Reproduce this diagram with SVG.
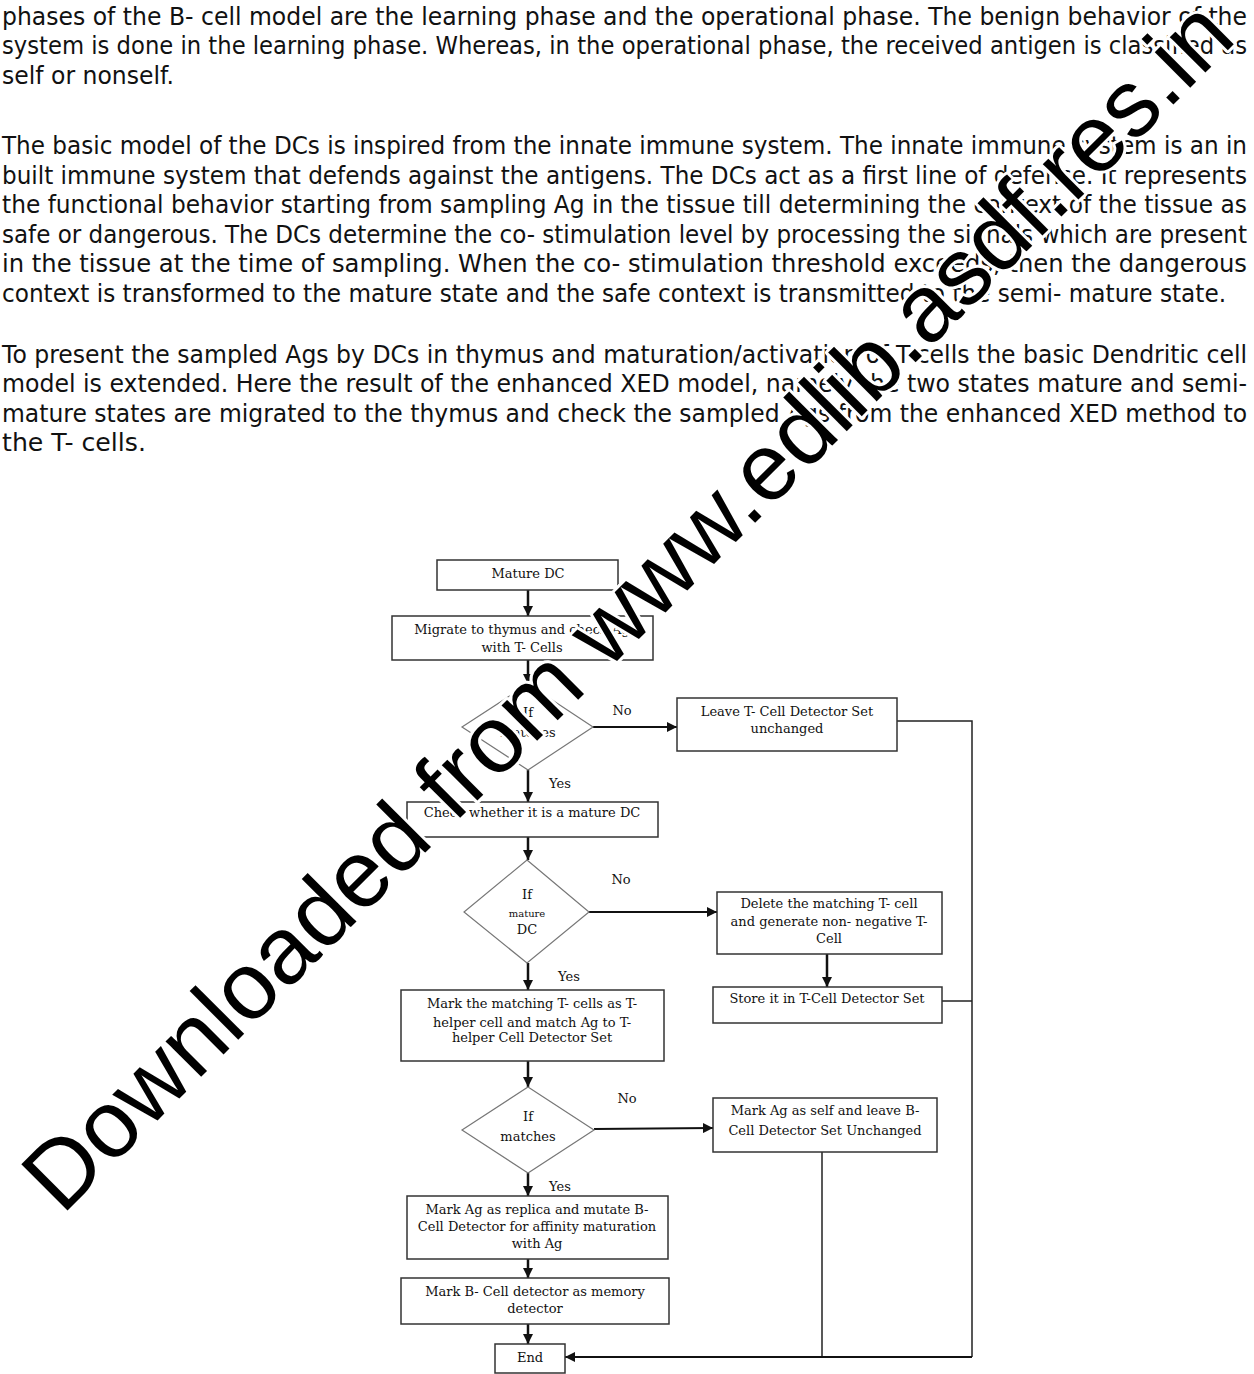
<svg xmlns="http://www.w3.org/2000/svg" width="1254" height="1374" viewBox="0 0 1254 1374">
<style>
.body{font-family:"DejaVu Sans","Liberation Sans",sans-serif;font-size:24px;fill:#111}
.ft{font-family:"DejaVu Serif","Liberation Serif",serif;font-size:13px;fill:#111;text-anchor:middle}
.sm{font-size:10px}
.box{fill:#fff;stroke:#333;stroke-width:1.5}
.dia{fill:#fff;stroke:#777;stroke-width:1.2}
.arr{stroke:#111;stroke-width:2.5;fill:none;marker-end:url(#ah)}
.arn{stroke:#111;stroke-width:2;fill:none;marker-end:url(#ah)}
.ln{stroke:#222;stroke-width:1.5;fill:none}
.wm{font-family:"Liberation Sans",Arial,sans-serif;font-size:95px;fill:#000;stroke:#fff;stroke-width:6;paint-order:stroke;stroke-linejoin:round}
</style>
<defs>
<marker id="ah" markerUnits="userSpaceOnUse" markerWidth="10" markerHeight="10" refX="10" refY="5" orient="auto">
<path d="M0,0 L10,5 L0,10 z" fill="#111"/>
</marker>
</defs>
<rect width="1254" height="1374" fill="#fff"/>
<g id="text">
<text class="body" x="2" y="25" textLength="1245" lengthAdjust="spacingAndGlyphs">phases of the B- cell model are the learning phase and the operational phase. The benign behavior of the</text>
<text class="body" x="2" y="54" textLength="1245" lengthAdjust="spacingAndGlyphs">system is done in the learning phase. Whereas, in the operational phase, the received antigen is classified as</text>
<text class="body" x="2" y="84" textLength="172" lengthAdjust="spacingAndGlyphs">self or nonself.</text>
<text class="body" x="2" y="154" textLength="1245" lengthAdjust="spacingAndGlyphs">The basic model of the DCs is inspired from the innate immune system. The innate immune system is an in</text>
<text class="body" x="2" y="184" textLength="1245" lengthAdjust="spacingAndGlyphs">built immune system that defends against the antigens.  The DCs act as a first line of defense. It represents</text>
<text class="body" x="2" y="213" textLength="1245" lengthAdjust="spacingAndGlyphs">the functional behavior starting from sampling Ag in the tissue till determining the context of the tissue as</text>
<text class="body" x="2" y="243" textLength="1245" lengthAdjust="spacingAndGlyphs">safe or dangerous. The DCs determine the co- stimulation level by processing the signals which are present</text>
<text class="body" x="2" y="272" textLength="1245" lengthAdjust="spacingAndGlyphs">in the tissue at the time of sampling. When the co- stimulation threshold exceeds, then the dangerous</text>
<text class="body" x="2" y="302" textLength="1224" lengthAdjust="spacingAndGlyphs">context is transformed to the mature state and the safe context is transmitted to the semi- mature state.</text>
<text class="body" x="2" y="363" textLength="1245" lengthAdjust="spacingAndGlyphs">To present the sampled Ags by DCs in thymus and maturation/activation of T-cells the basic Dendritic cell</text>
<text class="body" x="2" y="392" textLength="1245" lengthAdjust="spacingAndGlyphs">model is extended. Here the result of the enhanced XED model, namely the two states mature and semi-</text>
<text class="body" x="2" y="422" textLength="1245" lengthAdjust="spacingAndGlyphs">mature states are migrated to the thymus and check the sampled Ags from the enhanced XED method to</text>
<text class="body" x="2" y="451" textLength="144" lengthAdjust="spacingAndGlyphs">the T- cells.</text>
</g>
<g id="connectors">
<line class="arr" x1="528" y1="590" x2="528" y2="616"/>
<line class="arr" x1="528" y1="660" x2="528" y2="684"/>
<line class="arn" x1="593" y1="727" x2="677" y2="727"/>
<polyline class="ln" points="897,721 972,721 972,1357"/>
<line class="arr" x1="528" y1="770" x2="528" y2="802"/>
<line class="arr" x1="528" y1="837" x2="528" y2="860"/>
<line class="arn" x1="589" y1="912" x2="717" y2="912"/>
<line class="arr" x1="827" y1="954" x2="827" y2="987"/>
<line class="ln" x1="942" y1="1001" x2="972" y2="1001"/>
<line class="arr" x1="528" y1="963" x2="528" y2="990"/>
<line class="arr" x1="528" y1="1061" x2="528" y2="1087"/>
<line class="arn" x1="594" y1="1129" x2="713" y2="1128"/>
<line class="ln" x1="822" y1="1152" x2="822" y2="1357"/>
<line class="arr" x1="528" y1="1173" x2="528" y2="1196"/>
<line class="arr" x1="528" y1="1259" x2="528" y2="1278"/>
<line class="arr" x1="528" y1="1324" x2="528" y2="1344"/>
<line class="arn" x1="972" y1="1357" x2="565" y2="1357"/>
<text class="ft" x="622" y="715">No</text>
<text class="ft" x="560" y="788">Yes</text>
<text class="ft" x="621" y="884">No</text>
<text class="ft" x="569" y="981">Yes</text>
<text class="ft" x="627" y="1103">No</text>
<text class="ft" x="560" y="1191">Yes</text>
</g>
<g id="n-mature">
<rect class="box" x="437" y="560" width="181" height="30"/>
<text class="ft" x="528" y="578">Mature DC</text>
</g>
<g id="n-migrate">
<rect class="box" x="392" y="616" width="261" height="44"/>
<text class="ft" x="522" y="634">Migrate to thymus and check Ag</text>
<text class="ft" x="522" y="652">with T- Cells</text>
</g>
<g id="n-if1">
<polygon class="dia" points="528,684 593,727 528,770 462,727"/>
<text class="ft" x="528" y="717">If</text>
<text class="ft" x="528" y="737">matches</text>
</g>
<g id="n-leave">
<rect class="box" x="677" y="698" width="220" height="53"/>
<text class="ft" x="787" y="716">Leave T- Cell Detector Set</text>
<text class="ft" x="787" y="733">unchanged</text>
</g>
<g id="n-check">
<rect class="box" x="407" y="802" width="251" height="35"/>
<text class="ft" x="532" y="817">Check whether it is a mature DC</text>
</g>
<g id="n-if2">
<polygon class="dia" points="527,860 589,912 527,963 464,912"/>
<text class="ft" x="527" y="899">If</text>
<text class="ft sm" x="527" y="917">mature</text>
<text class="ft" x="527" y="934">DC</text>
</g>
<g id="n-delete">
<rect class="box" x="717" y="892" width="225" height="62"/>
<text class="ft" x="829" y="908">Delete the matching T- cell</text>
<text class="ft" x="829" y="926">and generate non- negative T-</text>
<text class="ft" x="829" y="943">Cell</text>
</g>
<g id="n-store">
<rect class="box" x="713" y="987" width="229" height="36"/>
<text class="ft" x="827" y="1003">Store it in T-Cell Detector Set</text>
</g>
<g id="n-mark">
<rect class="box" x="401" y="990" width="263" height="71"/>
<text class="ft" x="532" y="1008">Mark the matching T- cells as T-</text>
<text class="ft" x="532" y="1027">helper cell and match Ag to T-</text>
<text class="ft" x="532" y="1042">helper Cell Detector Set</text>
</g>
<g id="n-if3">
<polygon class="dia" points="528,1087 594,1130 528,1173 462,1130"/>
<text class="ft" x="528" y="1121">If</text>
<text class="ft" x="528" y="1141">matches</text>
</g>
<g id="n-self">
<rect class="box" x="713" y="1098" width="224" height="54"/>
<text class="ft" x="825" y="1115">Mark Ag as self and leave B-</text>
<text class="ft" x="825" y="1135">Cell Detector Set Unchanged</text>
</g>
<g id="n-replica">
<rect class="box" x="407" y="1196" width="261" height="63"/>
<text class="ft" x="537" y="1214">Mark Ag as replica and mutate B-</text>
<text class="ft" x="537" y="1231">Cell Detector for affinity maturation</text>
<text class="ft" x="537" y="1248">with Ag</text>
</g>
<g id="n-memory">
<rect class="box" x="401" y="1278" width="268" height="46"/>
<text class="ft" x="535" y="1296">Mark B- Cell detector as memory</text>
<text class="ft" x="535" y="1313">detector</text>
</g>
<g id="n-end">
<rect class="box" x="495" y="1344" width="70" height="29"/>
<text class="ft" x="530" y="1362">End</text>
</g>
<g id="watermark">
<text class="wm" x="62" y="1216" transform="rotate(-45 62 1216)">Downloaded from www.edlib.asdf.res.in</text>
</g>
</svg>
